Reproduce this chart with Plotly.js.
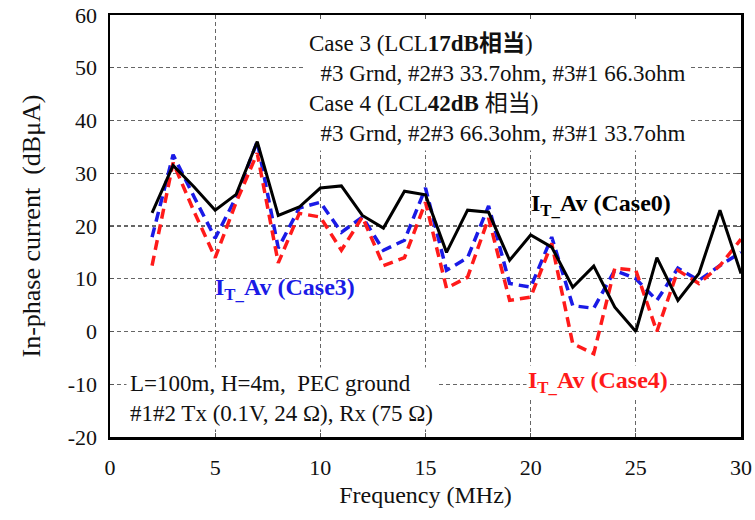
<!DOCTYPE html>
<html>
<head>
<meta charset="utf-8">
<script src="https://cdn.plot.ly/plotly-3.0.1.min.js"></script>
<style>html,body{margin:0;padding:0;background:#fff;}#chart{width:755px;height:520px;}</style>
</head>
<body>
<div id="chart"></div>
<script>
const freq = [2,3,4,5,6,7,8,9,10,11,12,13,14,15,16,17,18,19,20,21,22,23,24,25,26,27,28,29,30];
const case0 = [22.5,31.5,27.4,23,26,36,22,23.6,27.2,27.6,22,19.6,26.6,25.9,15,23,22.6,13.5,18.3,16,8.4,12.4,4.6,0,14,5.9,11,23,11];
const case3 = [17.9,33.5,25.5,17.7,25.5,36,15.8,23.4,24.5,18.8,21.7,15.4,17.3,27.2,11.6,14,23.8,9.1,8.4,17.9,4.9,4.4,11.6,10,5.9,12,9.7,12.5,15];
const case4 = [12.5,32,22.7,14,24.5,33.8,13,22.4,21.7,15.4,21.7,12.5,14,24.5,8.2,10.3,21.5,5.9,6.5,16.7,-2.3,-4.2,12,11.6,0,11.6,9.1,12.5,17.5];
const xTicks = [0,5,10,15,20,25,30];
const yTicks = [-20,-10,0,10,20,30,40,50,60];

const serif = "Liberation Serif, Times New Roman, serif";
const traces = [
  {x: freq, y: case3, mode: 'lines', line: {color: '#1a1ae6', width: 3.5, dash: '10px,6px'}, name: 'Case3'},
  {x: freq, y: case4, mode: 'lines', line: {color: '#ff1a1a', width: 3.5, dash: '10px,6px'}, name: 'Case4'},
  {x: freq, y: case0, mode: 'lines', line: {color: '#000000', width: 3}, name: 'Case0'}
];

const axisCommon = {
  showline: true, linecolor: '#000', linewidth: 2.5, mirror: 'ticks',
  ticks: 'inside', ticklen: 4, tickcolor: '#555', tickwidth: 1,
  showgrid: true, gridcolor: '#666', gridwidth: 1.3, griddash: '4px,3px',
  zeroline: false,
  tickfont: {family: serif, size: 22, color: '#111'}
};

const layout = {
  width: 755, height: 520,
  margin: {l: 110, r: 14, t: 15, b: 83},
  paper_bgcolor: '#fff', plot_bgcolor: '#fff',
  showlegend: false,
  font: {family: serif, color: '#000'},
  xaxis: Object.assign({}, axisCommon, {
    range: [0, 30], tickmode: 'array', tickvals: xTicks, ticktext: xTicks.map(String),
    ticklabelstandoff: 9,
    title: {text: 'Frequency (MHz)', font: {family: serif, size: 24, color: '#111'}, standoff: 8}
  }),
  yaxis: Object.assign({}, axisCommon, {
    range: [-20, 60], tickmode: 'array', tickvals: yTicks, ticktext: yTicks.map(String),
    ticklabelstandoff: 6,
    title: {text: 'In-phase current  (dBμA)', font: {family: serif, size: 26, color: '#111'}, standoff: 20}
  }),
  annotations: [
    {xref: 'paper', yref: 'paper', x: 0.307, y: 0.99, xanchor: 'left', yanchor: 'top', align: 'left',
     showarrow: false, bgcolor: '#fff', borderpad: 4,
     font: {family: serif, size: 23, color: '#111'},
     text: 'Case 3 (LCL<b>17dB<span style="font-family:Noto Sans CJK JP">相当</span></b>)<br>' +
           '\u00a0\u00a0#3 Grnd, #2#3 33.7ohm, #3#1 66.3ohm<br>' +
           'Case 4 (LCL<b>42dB</b> <span style="font-family:Noto Sans CJK JP">相当</span>)<br>' +
           '\u00a0\u00a0#3 Grnd, #2#3 66.3ohm, #3#1 33.7ohm'},
    {xref: 'paper', yref: 'paper', x: 0.025, y: 0.165, xanchor: 'left', yanchor: 'top', align: 'left',
     showarrow: false, bgcolor: '#fff', borderpad: 3,
     font: {family: serif, size: 23, color: '#111'},
     text: 'L=100m, H=4m,  PEC ground<br>#1#2 Tx (0.1V, 24 Ω), Rx (75 Ω)'},
    {xref: 'x', yref: 'y', x: 19.9, y: 24, xanchor: 'left', yanchor: 'middle',
     showarrow: false, font: {family: serif, size: 24, color: '#000'},
     text: '<b>I<sub>T_</sub>Av (Case0)</b>'},
    {xref: 'x', yref: 'y', x: 4.9, y: 8, xanchor: 'left', yanchor: 'middle',
     showarrow: false, font: {family: serif, size: 24, color: '#1a1ae6'},
     text: '<b>I<sub>T_</sub>Av (Case3)</b>'},
    {xref: 'x', yref: 'y', x: 19.8, y: -9.5, xanchor: 'left', yanchor: 'middle',
     showarrow: false, bgcolor: '#fff', font: {family: serif, size: 24, color: '#ff1a1a'},
     text: '<b>I<sub>T_</sub>Av (Case4)</b>'}
  ]
};

Plotly.newPlot('chart', traces, layout, {staticPlot: true, displayModeBar: false});
</script>
</body>
</html>
